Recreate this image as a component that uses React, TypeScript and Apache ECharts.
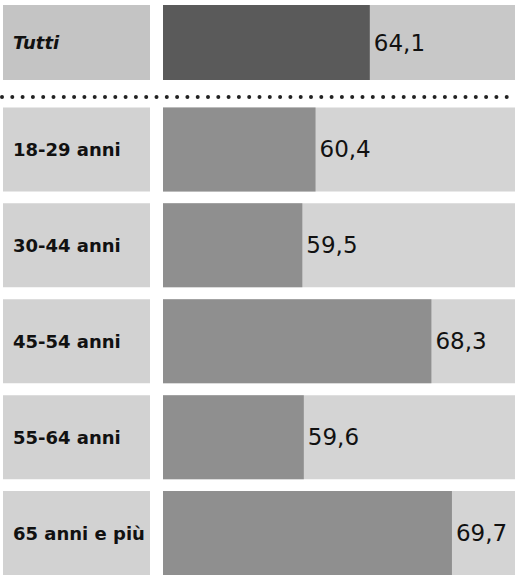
import React, { useEffect, useRef } from "react";
import * as echarts from "echarts";

const totalCategory = ["Tutti"];
const totalValues = [64.1];
const ageCategories = ["18-29 anni", "30-44 anni", "45-54 anni", "55-64 anni", "65 anni e più"];
const ageValues = [60.4, 59.5, 68.3, 59.6, 69.7];
const axisMin = 50;
const axisMax = 74;

const fmt = (v: number) => v.toFixed(1).replace(".", ",");

export default function App() {
  const ref = useRef<HTMLDivElement>(null);
  useEffect(() => {
    document.body.style.margin = "0";
    const chart = echarts.init(ref.current!, undefined, { renderer: "svg" });
    const font = "DejaVu Sans";
    const labelBase = {
      show: true,
      position: "right" as const,
      distance: 4,
      fontFamily: font,
      fontSize: 23,
      color: "#111",
      formatter: (p: any) => fmt(p.value),
    };
    chart.setOption({
      animation: false,
      backgroundColor: "#ffffff",
      grid: [
        { left: 160, right: 0, top: 5, height: 75 },
        { left: 160, right: 0, top: 101.5, height: 486 },
      ],
      xAxis: [
        { type: "value", gridIndex: 0, min: axisMin, max: axisMax, show: false },
        { type: "value", gridIndex: 1, min: axisMin, max: axisMax, show: false },
      ],
      yAxis: [
        {
          type: "category",
          gridIndex: 0,
          data: totalCategory,
          inverse: true,
          axisLine: { show: false },
          axisTick: { show: false },
          splitLine: { show: false },
          axisLabel: {
            margin: 160,
            align: "left",
            verticalAlign: "middle",
            fontFamily: font,
            fontSize: 18,
            fontWeight: "bold",
            fontStyle: "italic",
            color: "#111",
            backgroundColor: "#c4c4c4",
            width: 137,
            height: 75,
            lineHeight: 75,
            padding: [0, 0, 0, 10],
          },
        },
        {
          type: "category",
          gridIndex: 1,
          data: ageCategories,
          inverse: true,
          axisLine: { show: false },
          axisTick: { show: false },
          splitLine: { show: false },
          axisLabel: {
            margin: 160,
            align: "left",
            verticalAlign: "middle",
            fontFamily: font,
            fontSize: 18,
            fontWeight: "bold",
            color: "#111",
            backgroundColor: "#d2d2d2",
            width: 137,
            height: 84,
            lineHeight: 84,
            padding: [0, 0, 0, 10],
          },
        },
      ],
      series: [
        {
          type: "bar",
          xAxisIndex: 0,
          yAxisIndex: 0,
          data: totalValues,
          barWidth: 75,
          itemStyle: { color: "#5a5a5a" },
          showBackground: true,
          backgroundStyle: { color: "#c8c8c8" },
          label: labelBase,
        },
        {
          type: "bar",
          xAxisIndex: 1,
          yAxisIndex: 1,
          data: ageValues,
          barWidth: 84,
          itemStyle: { color: "#8f8f8f" },
          showBackground: true,
          backgroundStyle: { color: "#d4d4d4" },
          label: labelBase,
        },
      ],
      graphic: [
        {
          type: "line",
          shape: { x1: 2, y1: 97, x2: 515, y2: 97 },
          style: { stroke: "#222", lineWidth: 4, lineDash: [0, 10.3], lineCap: "round" },
          silent: true,
        },
      ],
    });
    return () => chart.dispose();
  }, []);
  return <div ref={ref} style={{ position: "fixed", left: 0, top: 0, width: 515, height: 581 }} />;
}
